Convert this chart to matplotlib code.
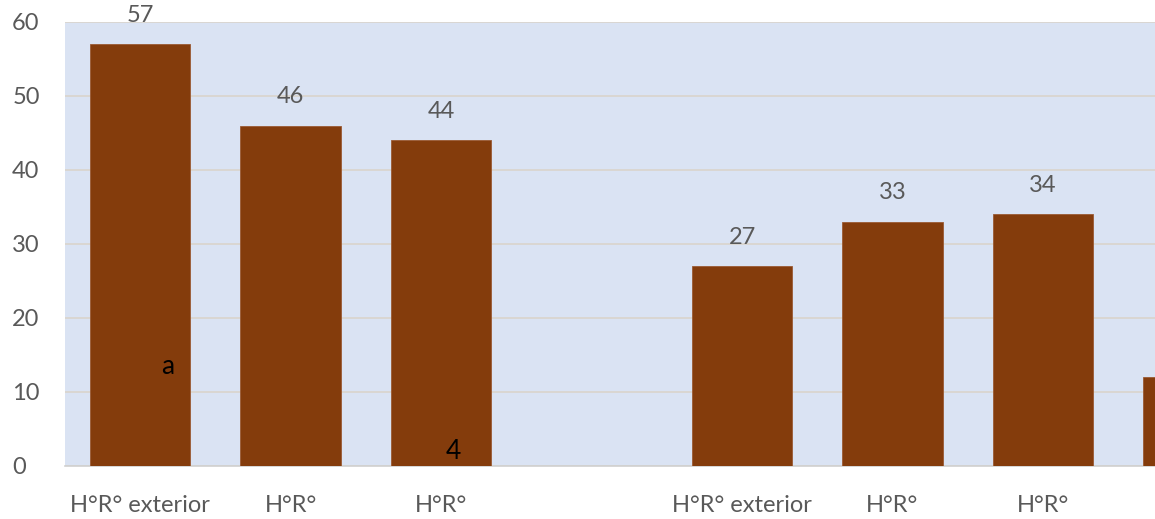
import matplotlib.pyplot as plt

# Column positions (slot 3 is an empty spacer between the two groups)
positions = [0, 1, 2, 4, 5, 6, 7]
values = [57, 46, 44, 27, 33, 34, 12]
tick_labels = ["H°R° exterior", "H°R°", "H°R°", "",
               "H°R° exterior", "H°R°", "H°R°"]
tick_positions = [0, 1, 2, 3, 4, 5, 6]
value_labels = ["57", "46", "44", "27", "33", "34", ""]

BAR_COLOR = "#843C0C"
BG_COLOR = "#DAE3F3"
TEXT_COLOR = "#595959"
GRID_COLOR = "#D9D4CC"

plt.rcParams["font.family"] = ["Lato", "DejaVu Sans"]

fig = plt.figure(figsize=(11.55, 5.19), dpi=100)
ax = fig.add_axes([65 / 1155, 53 / 519, 1 - 65 / 1155, 444 / 519])
ax.set_facecolor(BG_COLOR)

bars = ax.bar(positions, values, width=0.667, color=BAR_COLOR,
              edgecolor="#9A5A33", linewidth=0.6, zorder=3)

for bar, text in zip(bars, value_labels):
    if not text:
        continue
    ax.annotate(text, (bar.get_x() + bar.get_width() / 2, bar.get_height()),
                xytext=(0, 21), textcoords="offset points",
                ha="center", va="center", fontsize=17, color=TEXT_COLOR)

# stray annotations left on the chart
ax.text(0.18, 13.5, "a", ha="center", va="center", fontsize=19,
        color="black", zorder=4)
ax.text(2.08, 1.9, "4", ha="center", va="center", fontsize=19,
        color="black", zorder=4)

ax.set_xlim(-0.5, 6.745)
ax.set_ylim(0, 60)
ax.set_yticks(range(0, 61, 10))
ax.set_xticks(tick_positions)
ax.set_xticklabels(tick_labels)
ax.yaxis.grid(True, color=GRID_COLOR, linewidth=1.2, zorder=0)
ax.set_axisbelow(True)

for side in ("left", "right", "top"):
    ax.spines[side].set_visible(False)
ax.spines["bottom"].set_color("#D0D0D0")
ax.spines["bottom"].set_linewidth(1.2)

ax.tick_params(axis="both", length=0, labelsize=17, colors=TEXT_COLOR)
ax.tick_params(axis="x", pad=21)
ax.tick_params(axis="y", pad=38)
for lbl in ax.get_yticklabels():
    lbl.set_horizontalalignment("left")

fig.savefig("out.png", dpi=100)
